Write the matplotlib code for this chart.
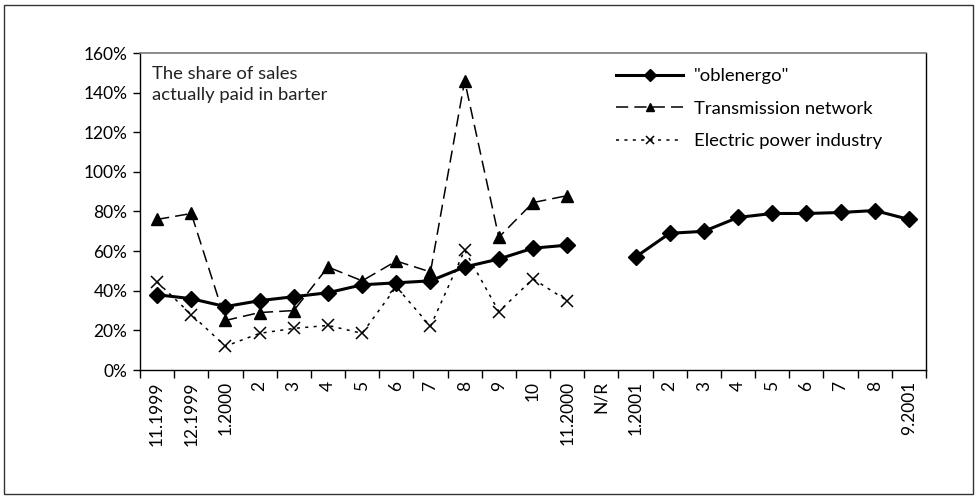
import matplotlib.pyplot as plt
import numpy as np
from matplotlib.patches import Rectangle

plt.rcParams['font.family'] = ['Lato', 'DejaVu Sans']

months = ["11.1999", "12.1999", "1.2000", "2", "3", "4", "5", "6", "7", "8", "9", "10",
          "11.2000", "N/R", "1.2001", "2", "3", "4", "5", "6", "7", "8", "9.2001"]

nan = np.nan
# share paid in barter, percent
oblenergo = [38, 36, 32, 35, 37, 39, 43, 44, 45, 52, 56, 61.5, 63, nan,
             57, 69, 70, 77, 79, 79, 79.5, 80.5, 76]
transmission = [76, 79, 25, 29, 30, 52, 45, 55, 49.5, 146, 67, 84.5, 88, nan,
                nan, nan, nan, nan, nan, nan, nan, nan, nan]
electric = [44.5, 28, 12, 18.5, 21, 22.5, 18.5, 42, 22, 60.5, 29.5, 46, 35, nan,
            nan, nan, nan, nan, nan, nan, nan, nan, nan]

W, H = 978, 498
fig = plt.figure(figsize=(W / 100, H / 100), dpi=100)
ax = fig.add_axes([140 / W, 1 - 370 / H, (926 - 140) / W, (370 - 53) / H])

# figure frame
fig.patches.append(Rectangle((4 / W, 4 / H), (973 - 4) / W, (493 - 4) / H,
                             transform=fig.transFigure, fill=False,
                             edgecolor='#333333', linewidth=1.0))

x = np.arange(len(months))
ax.plot(x, oblenergo, color='black', linewidth=2.2, marker='D', markersize=8,
        label='"oblenergo"', zorder=4)
ax.plot(x, transmission, color='black', linewidth=1.1, linestyle=(0, (8, 4)),
        marker='^', markersize=8, label='Transmission network', zorder=3)
ax.plot(x, electric, color='black', linewidth=1.1, linestyle=(0, (2, 3.5)),
        marker='x', markersize=8, markeredgewidth=1.1,
        label='Electric power industry', zorder=3)

ax.set_xlim(-0.5, len(months) - 0.5)
ax.set_ylim(0, 1.6 * 100)
yt = np.arange(0, 161, 20)
ax.set_yticks(yt)
ax.set_yticklabels([f"{v}%" for v in yt], fontsize=12.5)
ax.set_xticks(np.arange(-0.5, len(months) + 0.5, 1))
ax.set_xticklabels([])
ax.set_xticks(x, minor=True)
ax.set_xticklabels(months, minor=True, rotation=90, fontsize=12.5, va='top')
ax.tick_params(axis='x', which='minor', length=0, pad=8)
ax.tick_params(axis='x', which='major', length=6, width=1, direction='out')
ax.tick_params(axis='y', length=5, width=1, direction='out', pad=4)

for s in ['left', 'bottom', 'right']:
    ax.spines[s].set_color('black')
    ax.spines[s].set_linewidth(1.0)
ax.spines['top'].set_color('#777777')
ax.spines['top'].set_linewidth(1.2)

ax.text(0.015, 0.96, "The share of sales\nactually paid in barter", transform=ax.transAxes,
        fontsize=13.3, va='top', ha='left', color='#222222', linespacing=1.4)

leg = ax.legend(loc='upper left', bbox_to_anchor=(0.585, 1.005), frameon=False,
                fontsize=13.3, handlelength=3.6, labelspacing=0.9, handletextpad=0.6,
                markerscale=0.8)

fig.savefig("out.png", dpi=100)
